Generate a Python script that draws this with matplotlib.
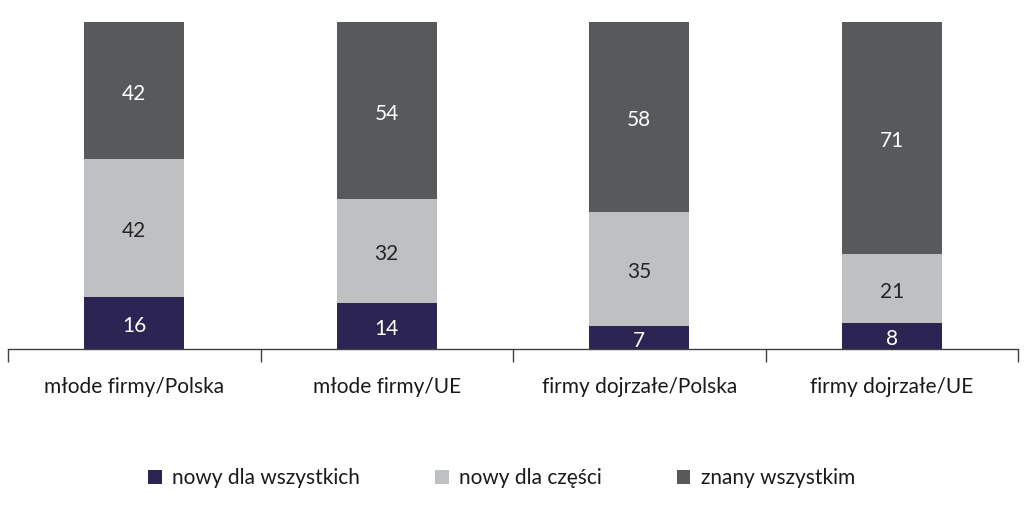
import numpy as np
import matplotlib.pyplot as plt
from matplotlib.patches import Patch

plt.rcParams['font.family'] = ['Lato', 'DejaVu Sans']

categories = ['młode firmy/Polska', 'młode firmy/UE', 'firmy dojrzałe/Polska', 'firmy dojrzałe/UE']
series_names = ['nowy dla wszystkich', 'nowy dla części', 'znany wszystkim']
nowy_wszystkich = [16, 14, 7, 8]
nowy_czesci = [42, 32, 35, 21]
znany = [42, 54, 58, 71]

colors = ['#2c2452', '#bfc0c2', '#58595b']
text_colors = ['white', '#262626', 'white']

fig = plt.figure(figsize=(10.24, 5.12), dpi=100)
ax = fig.add_axes([8 / 1024, 163 / 512, 1010 / 1024, 327 / 512])

x = np.arange(len(categories))
bottom = np.zeros(len(categories))
for vals, col, tc in zip([nowy_wszystkich, nowy_czesci, znany], colors, text_colors):
    vals = np.array(vals, dtype=float)
    ax.bar(x, vals, width=0.396, bottom=bottom, color=col, linewidth=0)
    for xi, b, v in zip(x, bottom, vals):
        ax.text(xi, b + v / 2 - 1, f'{int(v)}', ha='center', va='center',
                fontsize=15, color=tc)
    bottom += vals

ax.set_xlim(-0.5, len(categories) - 0.5)
ax.set_ylim(0, 100)
for s in ['top', 'right', 'left']:
    ax.spines[s].set_visible(False)
ax.spines['bottom'].set_color('#404040')
ax.spines['bottom'].set_linewidth(1.0)
ax.set_yticks([])
ax.set_xticks(x)
ax.set_xticklabels(categories, fontsize=15, color='#1a1a1a')
ax.tick_params(axis='x', which='major', length=0, pad=20)
ax.set_xticks(np.arange(-0.5, len(categories)), minor=True)
ax.tick_params(axis='x', which='minor', length=9, width=1.0, color='#404040', direction='out')

handles = [Patch(facecolor=c, edgecolor='none') for c in colors]
fig.legend(handles, series_names, loc='center', bbox_to_anchor=(0.49, 0.066),
           ncol=3, frameon=False, fontsize=15, handlelength=0.65, handleheight=0.65,
           handletextpad=0.5, columnspacing=3.6, labelcolor='#1a1a1a')

fig.savefig('out.png', dpi=100)
